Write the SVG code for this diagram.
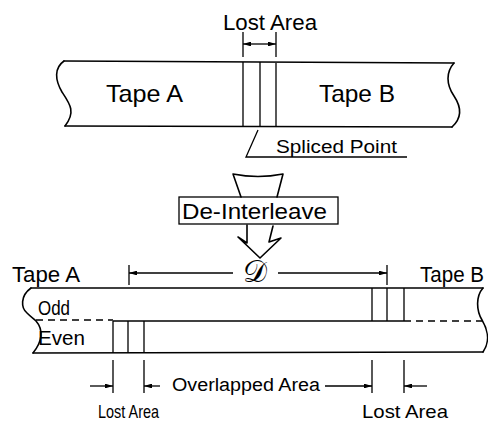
<svg xmlns="http://www.w3.org/2000/svg" width="488" height="422" viewBox="0 0 488 422">
<style>
  .ln{fill:none;stroke:#000;stroke-width:1.6;stroke-linecap:round;stroke-linejoin:round}
  .th{fill:none;stroke:#000;stroke-width:1.3}
  .ds{fill:none;stroke:#000;stroke-width:1.4;stroke-dasharray:7 5}
  .t{font-family:"Liberation Sans",Arial,sans-serif;fill:#000}
</style>
<defs>
  <marker id="ah" viewBox="0 0 10 6" refX="10" refY="3" markerWidth="8" markerHeight="4.8" markerUnits="userSpaceOnUse" orient="auto">
    <path d="M0,0 L10,3 L0,6 Z" fill="#000"/>
  </marker>
</defs>
<rect width="488" height="422" fill="#fff"/>

<g id="tape-top">
  <path class="ln" d="M64,61 L454,63"/>
  <path class="ln" d="M65,126 L452,127"/>
  <path class="ln" d="M64,61 C54,68 55,80 62,92 C70,104 76,112 65,126"/>
  <path class="ln" d="M454,63 C446,72 446,84 454,96 C462,108 462,118 452,127"/>
  <path class="th" d="M243,62 V126 M260,62 V126 M276,63 V127"/>
  <text class="t" x="106" y="102" font-size="24" textLength="77" lengthAdjust="spacingAndGlyphs">Tape A</text>
  <text class="t" x="319" y="102" font-size="24" textLength="76" lengthAdjust="spacingAndGlyphs">Tape B</text>
</g>

<g id="lost-area-top">
  <text class="t" x="223" y="30" font-size="22" textLength="94" lengthAdjust="spacingAndGlyphs">Lost Area</text>
  <path class="th" d="M243,32 V57 M276,32 V57"/>
  <path class="th" d="M259,44 H243" marker-end="url(#ah)"/>
  <path class="th" d="M259,44 H276" marker-end="url(#ah)"/>
</g>

<g id="spliced-point">
  <path class="th" d="M258,130 L246,157 H407"/>
  <text class="t" x="276" y="153" font-size="18" textLength="121" lengthAdjust="spacingAndGlyphs">Spliced Point</text>
</g>

<g id="de-interleave">
  <path class="ln" d="M233,174 Q258,179 283,174 L277,197 M233,174 L241,197"/>
  <rect x="179" y="197" width="159" height="27" class="th"/>
  <text class="t" x="182" y="219" font-size="22" textLength="145" lengthAdjust="spacingAndGlyphs">De-Interleave</text>
  <path class="ln" d="M247,225 L247,243 L238,237 L260,258 L281,238 L269,242 L273,226"/>
</g>

<g id="tape-bottom">
  <path class="ln" d="M31,288 L483,288"/>
  <path class="ln" d="M33,353 L483,352"/>
  <path class="ln" d="M31,288 C20,296 21,308 27,313 C31,317 34,319 36,321 C44,330 42,342 33,353"/>
  <path class="ln" d="M483,288 C476,296 476,310 482,320 C488,330 490,342 483,352"/>
  <path class="ds" d="M36,320 H113"/>
  <path class="ds" d="M404,321 H482"/>
  <path class="th" d="M113,321 H404"/>
  <path class="th" d="M372,288 V321 M387,288 V321 M404,288 V321"/>
  <path class="th" d="M113,321 V353 M128,321 V353 M144,321 V353"/>
  <text class="t" x="38" y="315" font-size="21" textLength="32" lengthAdjust="spacingAndGlyphs">Odd</text>
  <text class="t" x="38" y="345" font-size="21" textLength="47" lengthAdjust="spacingAndGlyphs">Even</text>
  <text class="t" x="12" y="282" font-size="22" textLength="68" lengthAdjust="spacingAndGlyphs">Tape A</text>
  <text class="t" x="420" y="282" font-size="22" textLength="64" lengthAdjust="spacingAndGlyphs">Tape B</text>
</g>

<g id="dimension-d">
  <path class="th" d="M129,265 V285 M387,265 V285"/>
  <path class="th" d="M233,273 H129" marker-end="url(#ah)"/>
  <path class="th" d="M278,273 H387" marker-end="url(#ah)"/>
  <text x="255" y="282" font-size="30" text-anchor="middle" font-family="'DejaVu Serif','Liberation Serif',serif">𝒟</text>
</g>

<g id="overlap-dims">
  <path class="th" d="M113,360 V393 M144,360 V393 M372,360 V393 M404,360 V393"/>
  <path class="th" d="M90,386 H113" marker-end="url(#ah)"/>
  <path class="th" d="M160,386 H144" marker-end="url(#ah)"/>
  <path class="th" d="M325,386 H372" marker-end="url(#ah)"/>
  <path class="th" d="M427,386 H404" marker-end="url(#ah)"/>
  <text class="t" x="172" y="391" font-size="18" textLength="148" lengthAdjust="spacingAndGlyphs">Overlapped Area</text>
  <text class="t" x="98" y="418" font-size="19" textLength="61" lengthAdjust="spacingAndGlyphs">Lost Area</text>
  <text class="t" x="362" y="418" font-size="19" textLength="86" lengthAdjust="spacingAndGlyphs">Lost Area</text>
</g>
</svg>
